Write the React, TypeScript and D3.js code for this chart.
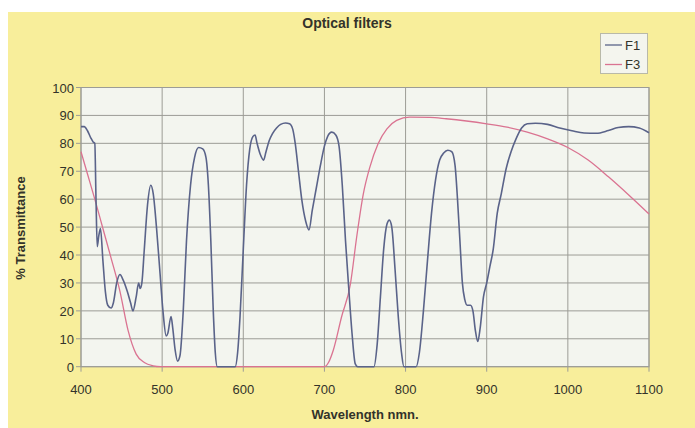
import React from "react";
import * as d3 from "d3";

const W = 695;
const H = 428;

const xTicks = [400, 500, 600, 700, 800, 900, 1000, 1100];
const yTicks = [0, 10, 20, 30, 40, 50, 60, 70, 80, 90, 100];

const f1Wavelength = [
  400, 404, 408, 412, 415, 417, 418.5, 420, 422, 424, 427, 430, 433, 437, 440, 444, 448, 452, 457, 461,
  464, 468, 471, 473, 475, 478, 482, 486, 489, 493, 497, 501, 505, 507, 511, 513, 516, 519, 522, 526,
  530, 535, 540, 545, 550, 554, 557, 560, 563, 565.5, 568, 590, 593, 596, 600, 604, 608, 612, 614.5, 617,
  621, 625, 628, 632, 636, 641, 646, 652, 657, 661, 664, 668, 672, 677, 681, 685, 690, 695, 700, 704,
  709, 714, 718, 722, 726, 730, 734, 738, 741, 761, 765, 769, 773, 777, 780, 783, 787, 791, 795, 798,
  813, 817, 822, 827, 832, 837, 842, 847, 852, 857, 861, 864, 867, 870, 873, 876, 880, 883, 886, 889,
  892, 896, 900, 904, 908, 913, 918, 924, 930, 936, 943, 950, 960, 975, 990, 1005, 1020, 1035, 1050, 1062,
  1075, 1088, 1100,
];
const f1Values = [
  86, 86, 84.5, 82, 80.5, 80, 60, 43, 47, 49.5, 38, 27, 22, 21, 23, 30, 33, 31, 27, 23,
  20, 25, 30, 28, 30, 42, 58, 65, 62, 50, 35, 20, 11, 12, 18, 14, 6, 2, 4, 20,
  45, 65, 75, 78.5, 78, 75, 65, 45, 20, 5, 0, 0, 5, 18, 42, 65, 78, 82.5, 83, 80,
  76, 74, 77, 81, 83.5, 85.5, 86.8, 87.3, 87, 85, 80, 70, 60, 52, 49, 56, 64, 72, 79, 82.5,
  84, 83, 79, 65, 45, 28, 12, 1, 0, 0, 8, 25, 42, 51, 52.5, 50, 35, 18, 5, 0,
  0, 5, 20, 38, 55, 67, 74, 76.5, 77.5, 77, 72, 60, 45, 30, 24, 22, 22, 20, 13, 9,
  14, 25, 30, 36, 42, 55, 62, 71, 77, 81.5, 85.5, 87, 87.2, 86.8, 85.5, 84.5, 83.7, 83.6, 84.6, 85.7,
  86, 85.5, 83.8,
];

const f3Wavelength = [
  400, 408, 417, 427, 437, 448, 458, 468, 478, 489, 498, 700, 705, 711, 721, 732, 740, 748, 756, 766,
  777, 789, 805, 830, 850, 875, 900, 925, 950, 975, 1000, 1025, 1050, 1075, 1100,
];
const f3Values = [
  77, 69, 60, 49.5, 39, 27, 13, 4.5, 1.5, 0.3, 0, 0, 1.5, 6, 17.7, 29.6, 47, 62, 71.5, 79.8,
  85.2, 88.2, 89.4, 89.3, 88.8, 88, 87, 85.8, 84, 81.6, 78.5, 74, 68, 61.5, 54.7,
];

const seriesNames = ["F1", "F3"];
const seriesColors = ["#5a6389", "#da7391"];

export default function App() {
  const left = 81;
  const right = 649;
  const top = 87.5;
  const bottom = 366.7;

  const x = d3.scaleLinear().domain([400, 1100]).range([left, right]);
  const y = d3.scaleLinear().domain([0, 100]).range([bottom, top]);

  const line = d3
    .line<[number, number]>()
    .x((d) => x(d[0]))
    .y((d) => y(d[1]))
    .curve(d3.curveMonotoneX);

  const f1 = line(f1Wavelength.map((w, i) => [w, f1Values[i]] as [number, number])) || "";
  const f3 = line(f3Wavelength.map((w, i) => [w, f3Values[i]] as [number, number])) || "";

  const font = "Liberation Sans, Arial, sans-serif";
  const textColor = "#33332a";

  return (
    <svg
      width={W}
      height={H}
      style={{ position: "absolute", left: 0, top: 0, display: "block" }}
      fontFamily={font}
    >
      <rect x={0} y={0} width={W} height={H} fill="#ffffff" />
      <rect x={8} y={12} width={W - 8} height={H - 12} fill="#f8ee9b" />
      <text x={347} y={28} textAnchor="middle" fontSize={14} fontWeight="bold" fill={textColor}>
        Optical filters
      </text>

      {/* legend */}
      <rect x={600.5} y={33.5} width={47} height={40} fill="#f4f5ee" stroke="#b9b9a8" strokeWidth={1} />
      {seriesNames.map((n, i) => (
        <g key={n}>
          <line x1={605} x2={622} y1={45 + i * 19.5} y2={45 + i * 19.5} stroke={seriesColors[i]} strokeWidth={1.3} />
          <text x={625} y={49.5 + i * 19.5} fontSize={13} fill={textColor}>
            {n}
          </text>
        </g>
      ))}

      {/* plot area */}
      <rect x={left} y={top} width={right - left} height={bottom - top} fill="#f3f5ef" />
      {yTicks.map((t) => (
        <line key={"gy" + t} x1={left - 5} x2={right} y1={y(t)} y2={y(t)} stroke="#9c9c96" strokeWidth={1} />
      ))}
      {xTicks.map((t) => (
        <line key={"gx" + t} x1={x(t)} x2={x(t)} y1={top} y2={bottom + 5} stroke="#9c9c96" strokeWidth={1} />
      ))}
      <rect x={left} y={top} width={right - left} height={bottom - top} fill="none" stroke="#9c9c96" strokeWidth={1} />

      <path d={f3} fill="none" stroke={seriesColors[1]} strokeWidth={1.3} />
      <path d={f1} fill="none" stroke={seriesColors[0]} strokeWidth={1.6} />

      {yTicks.map((t) => (
        <text key={"ty" + t} x={74} y={y(t) + 5} textAnchor="end" fontSize={13} fill={textColor}>
          {t}
        </text>
      ))}
      {xTicks.map((t) => (
        <text key={"tx" + t} x={x(t)} y={394} textAnchor="middle" fontSize={13} fill={textColor}>
          {t}
        </text>
      ))}
      <text x={365} y={419} textAnchor="middle" fontSize={13} fontWeight="bold" fill={textColor}>
        Wavelength nmn.
      </text>
      <text
        transform={`translate(25, 228) rotate(-90)`}
        textAnchor="middle"
        fontSize={13}
        fontWeight="bold"
        fill={textColor}
      >
        % Transmittance
      </text>
    </svg>
  );
}
